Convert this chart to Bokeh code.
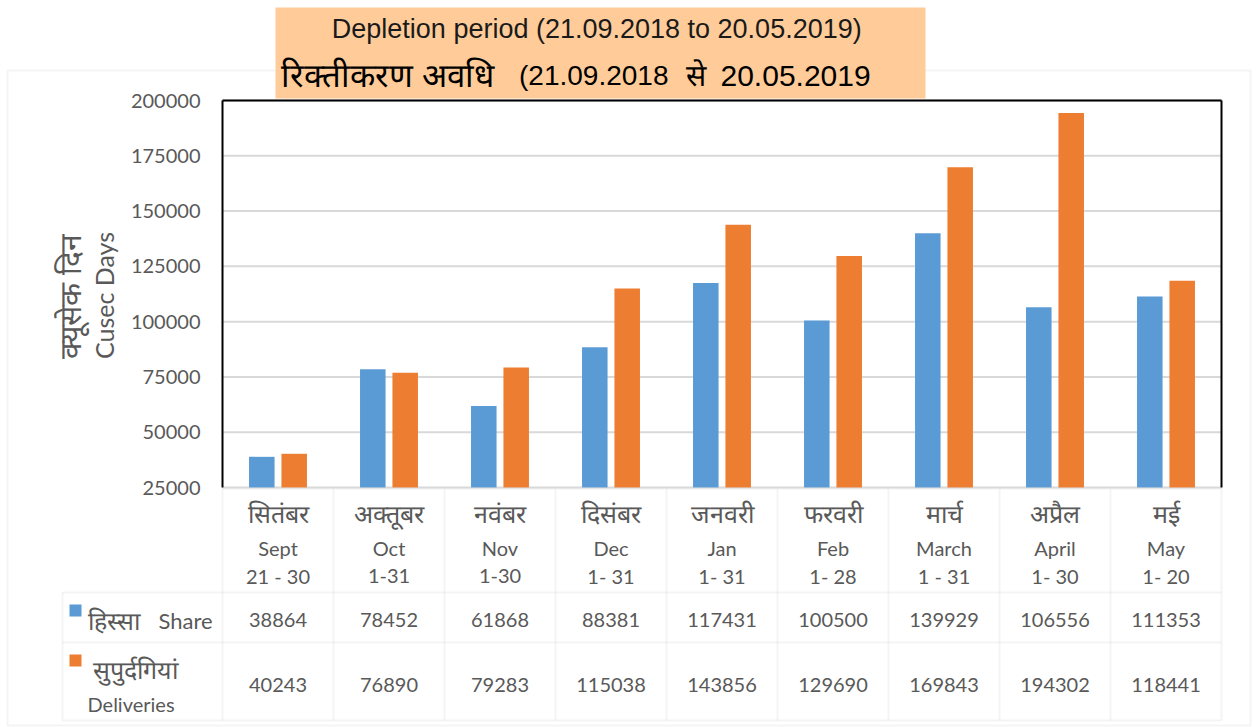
import math
from bokeh.plotting import figure
from bokeh.models import (Range1d, FixedTicker, Label, BoxAnnotation, ColumnDataSource,
                          LinearAxis, NumeralTickFormatter)
from bokeh.transform import dodge
from bokeh.embed import file_html
from bokeh.resources import INLINE

# ---------------- data ----------------
months_hi = ["सितंबर", "अक्तूबर", "नवंबर", "दिसंबर", "जनवरी", "फरवरी", "मार्च", "अप्रैल", "मई"]
months_en = ["Sept", "Oct", "Nov", "Dec", "Jan", "Feb", "March", "April", "May"]
date_ranges = ["21 - 30", "1-31", "1-30", "1- 31", "1- 31", "1- 28", "1 - 31", "1- 30", "1- 20"]
share = [38864, 78452, 61868, 88381, 117431, 100500, 139929, 106556, 111353]
deliveries = [40243, 76890, 79283, 115038, 143856, 129690, 169843, 194302, 118441]
y_ticks = [25000, 50000, 75000, 100000, 125000, 150000, 175000, 200000]
share_name_hi, share_name_en = "हिस्सा", "Share"
deliv_name_hi, deliv_name_en = "सुपुर्दगियां", "Deliveries"
ytitle_hi, ytitle_en = "क्यूसेक दिन", "Cusec Days"
title_en = "Depletion  period (21.09.2018 to 20.05.2019)"
title_hi_parts = ["रिक्तीकरण अवधि", "(21.09.2018", "से", "20.05.2019"]

# ---------------- style / layout ----------------
BLUE = "#5B9BD5"
ORANGE = "#ED7D31"
GRID = "#D9D9D9"
TXT = "#595959"
PEACH = "#FFCC99"
FONT = "Lato"

W, H = 1257, 727
PX_LEFT, PX_RIGHT = 222, 1221      # plot area, page pixels
PX_TOP, PX_BOTTOM = 100, 487
n = len(months_en)
ymin, ymax = y_ticks[0], y_ticks[-1]

# ranges chosen so the plot area lands on the pixels above while the frame fills the canvas
ux = (PX_RIGHT - PX_LEFT) / n
uy = (PX_BOTTOM - PX_TOP) / (ymax - ymin)
x_range = Range1d(-PX_LEFT / ux, (W - PX_LEFT) / ux)
y_range = Range1d(ymin - (H - PX_BOTTOM) / uy, ymax + PX_TOP / uy)

p = figure(width=W, height=H, output_backend="svg", toolbar_location=None,
           x_range=x_range, y_range=y_range, x_axis_location=None, y_axis_location=None,
           min_border=0, min_border_left=0, min_border_right=0,
           min_border_top=0, min_border_bottom=0)
p.outline_line_color = None
p.background_fill_color = "white"
p.border_fill_color = "white"
p.xgrid.visible = False
p.ygrid.visible = False

ax = LinearAxis(fixed_location=0)
ax.ticker = FixedTicker(ticks=y_ticks)
ax.formatter = NumeralTickFormatter(format="0")
ax.axis_line_color = None
ax.major_tick_line_color = None
ax.minor_tick_line_color = None
ax.major_tick_out = 0
ax.major_tick_in = 0
ax.major_label_standoff = 22
ax.major_label_text_font = FONT
ax.major_label_text_font_size = "20px"
ax.major_label_text_color = TXT
p.add_layout(ax, "left")

def sx(px):
    return px

def sy(py):
    return H - py

BOX = dict(left_units="screen", right_units="screen", top_units="screen", bottom_units="screen")

# outer chart border
p.add_layout(BoxAnnotation(left=sx(7), right=sx(1250), top=sy(70), bottom=sy(725), **BOX,
                           fill_alpha=0, line_color=GRID, line_width=2, level="underlay"))

# horizontal gridlines (only across the plot area)
p.segment(x0=0, x1=n, y0=y_ticks, y1=y_ticks, line_color=GRID, line_width=2)

# bars
src = ColumnDataSource(dict(x=[i + 0.5 for i in range(n)], share=share, deliveries=deliveries))
p.vbar(x=dodge("x", -0.146, range=p.x_range), top="share", bottom=ymin, width=0.23,
       fill_color=BLUE, line_color=None, source=src)
p.vbar(x=dodge("x", 0.146, range=p.x_range), top="deliveries", bottom=ymin, width=0.23,
       fill_color=ORANGE, line_color=None, source=src)

# plot-area black border (left, right, top)
p.segment(x0=[0, n, 0], x1=[0, n, n], y0=[ymin, ymin, ymax], y1=[ymax, ymax, ymax],
          line_color="black", line_width=2)

# title box
p.add_layout(BoxAnnotation(left=sx(275), right=sx(925), top=sy(7), bottom=sy(98), **BOX,
                           fill_color=PEACH, fill_alpha=1, line_color=None))
p.add_layout(Label(x=sx(600), y=sy(28), x_units="screen", y_units="screen", text=title_en,
                   text_align="center", text_baseline="middle", text_font="Liberation Sans",
                   text_font_size="27px", text_color="#1a1a1a"))
title_hi_x = [280, 668, 685, 720]
title_hi_align = ["left", "right", "left", "left"]
title_hi_size = ["33px", "28px", "30px", "30px"]
for t, xx, al, fs in zip(title_hi_parts, title_hi_x, title_hi_align, title_hi_size):
    p.add_layout(Label(x=sx(xx), y=sy(75), x_units="screen", y_units="screen", text=t,
                       text_align=al, text_baseline="middle", text_font="Liberation Sans",
                       text_font_size=fs, text_color="black"))

# y-axis title (two rotated lines)
p.add_layout(Label(x=sx(68), y=sy(296), x_units="screen", y_units="screen", text=ytitle_hi,
                   angle=math.pi / 2, text_align="center", text_baseline="middle",
                   text_font=FONT, text_font_size="30px", text_color=TXT))
p.add_layout(Label(x=sx(103), y=sy(295), x_units="screen", y_units="screen", text=ytitle_en,
                   angle=math.pi / 2, text_align="center", text_baseline="middle",
                   text_font=FONT, text_font_size="25px", text_color=TXT))

# ---------------- data table ----------------
def hline(x0_px, y):
    p.add_layout(BoxAnnotation(left=sx(x0_px), right=n, top=sy(y), bottom=sy(y),
                               left_units="screen", right_units="data",
                               top_units="screen", bottom_units="screen",
                               fill_alpha=0, line_color=GRID, line_width=2))

def vline(x_data, y0, y1):
    p.add_layout(BoxAnnotation(left=x_data, right=x_data, top=sy(y0), bottom=sy(y1),
                               left_units="data", right_units="data",
                               top_units="screen", bottom_units="screen",
                               fill_alpha=0, line_color=GRID, line_width=2))

hline(PX_LEFT, 488)
for yy in (592, 642, 720):
    hline(62, yy)
for k in range(n + 1):
    vline(k, 488, 720)
p.add_layout(BoxAnnotation(left=sx(62), right=sx(62), top=sy(592), bottom=sy(720), **BOX,
                           fill_alpha=0, line_color=GRID, line_width=2))

def lab(x, y, text, size="20px", align="center", xu="data"):
    p.add_layout(Label(x=x, y=y, x_units=xu, y_units="screen", text=text,
                       text_align=align, text_baseline="middle", text_font=FONT,
                       text_font_size=size, text_color=TXT))

for i in range(n):
    cx = i + 0.5
    lab(cx, sy(512), months_hi[i], "25px")
    lab(cx, sy(547), months_en[i], "20px")
    lab(cx, sy(575), date_ranges[i], "20px")
    lab(cx, sy(619), str(share[i]), "20px")
    lab(cx, sy(684), str(deliveries[i]), "20px")

# legend keys in table
p.add_layout(BoxAnnotation(left=sx(69), right=sx(81), top=sy(604), bottom=sy(616), **BOX,
                           fill_color=BLUE, fill_alpha=1, line_color=None))
p.add_layout(BoxAnnotation(left=sx(69), right=sx(81), top=sy(654), bottom=sy(666), **BOX,
                           fill_color=ORANGE, fill_alpha=1, line_color=None))
lab(sx(87), sy(619), share_name_hi, "25px", "left", "screen")
lab(sx(158), sy(620), share_name_en, "22px", "left", "screen")
lab(sx(92), sy(668), deliv_name_hi, "25px", "left", "screen")
lab(sx(87), sy(703), deliv_name_en, "20px", "left", "screen")

open("out.html", "w").write(file_html(p, INLINE))
